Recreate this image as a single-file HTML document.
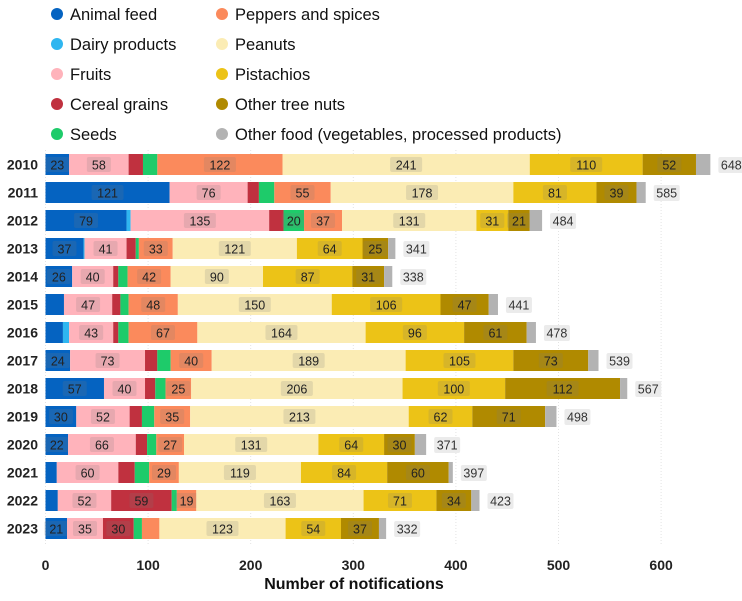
<!DOCTYPE html>
<html><head><meta charset="utf-8"><style>
body{margin:0;background:#fff;width:742px;height:596px;overflow:hidden;font-family:"Liberation Sans",sans-serif}
svg text{font-family:"Liberation Sans",sans-serif}
</style></head><body>
<svg id="chart" width="742" height="596"></svg>
<script>
const years=[2010,2011,2012,2013,2014,2015,2016,2017,2018,2019,2020,2021,2022,2023];
const categories=["Animal feed","Dairy products","Fruits","Cereal grains","Seeds","Peppers and spices","Peanuts","Pistachios","Other tree nuts","Other food (vegetables, processed products)"];
const animalFeed=[23,121,79,37,26,18,17,24,57,30,22,11,12,21];
const dairy=[0,0,4,1,0,0,6,0,0,0,0,0,0,0];
const fruits=[58,76,135,41,40,47,43,73,40,52,66,60,52,35];
const cereal=[14,11,14,9,5,8,5,12,10,12,11,16,59,30];
const seeds=[14,15,20,3,9,8,10,13,10,12,9,14,5,8];
const peppers=[122,55,37,33,42,48,67,40,25,35,27,29,19,17];
const peanuts=[241,178,131,121,90,150,164,189,206,213,131,119,163,123];
const pistachios=[110,81,31,64,87,106,96,105,100,62,64,84,71,54];
const otherNuts=[52,39,21,25,31,47,61,73,112,71,30,60,34,37];
const otherFood=[14,9,12,7,8,9,9,10,7,11,11,4,8,7];
const totals=[648,585,484,341,338,441,478,539,567,498,371,397,423,332];
const xTicks=[0,100,200,300,400,500,600];
const series=[animalFeed,dairy,fruits,cereal,seeds,peppers,peanuts,pistachios,otherNuts,otherFood];
const colors=["#0563c1","#2fb6f0","#ffb3bb","#c0313f","#1ecb6a","#fb8a5c","#fbecb4","#ecc317","#b08a00","#b3b3b3"];
const slugs=["animal-feed","dairy","fruits","cereal-grains","seeds","peppers","peanuts","pistachios","other-tree-nuts","other-food"];
const svg=document.getElementById('chart');
const NS="http://www.w3.org/2000/svg";
const x0=45.5,scale=1.026;
const X=v=>x0+v*scale;
const Y=i=>154+i*28;
const barH=21;
function mk(t,a,txt){const e=document.createElementNS(NS,t);for(const k in a)e.setAttribute(k,a[k]);if(txt!==undefined)e.textContent=txt;svg.appendChild(e);return e;}
// grid
xTicks.forEach(t=>{
  const g=mk('line',{x1:X(t),x2:X(t),y1:150,y2:545,stroke:'#e3e3e3','stroke-dasharray':'1,2'});
  
  
  const l=mk('text',{x:X(t),y:570,'text-anchor':'middle','font-size':14,'font-weight':'bold',fill:'#222'},t);
  
  
});
const at=mk('text',{x:354,y:589,'text-anchor':'middle','font-size':16,'font-weight':'bold',fill:'#111'},'Number of notifications');


// bars
years.forEach((yr,i)=>{
  const yl=mk('text',{x:38,y:Y(i)+15.5,'text-anchor':'end','font-size':14,'font-weight':'bold',fill:'#222'},yr);
  
  
  let acc=0;
  series.forEach((s,k)=>{
    const v=s[i];
    if(v>0){
      const r=mk('rect',{x:X(acc),y:Y(i),width:v*scale,height:barH,fill:colors[k]});
      
      
      if(v>=19){
        const cx=X(acc+v/2),w=String(v).length*8+8;
        const bg=mk('rect',{x:cx-w/2,y:Y(i)+3,width:w,height:15,rx:2,fill:'rgba(120,120,120,0.18)'});
        
        
        const t=mk('text',{x:cx,y:Y(i)+15.5,'text-anchor':'middle','font-size':12.5,fill:'#222'},v);
        
        
      }
    }
    acc+=v;
  });
  const tx=X(totals[i])+8;
  const tb=mk('rect',{x:tx,y:Y(i)+3,width:26,height:16,rx:2,fill:'#ebebeb'});
  
  
  const tt=mk('text',{x:tx+13,y:Y(i)+15.5,'text-anchor':'middle','font-size':12.5,fill:'#333'},totals[i]);
  
  
});
// legend
categories.forEach((c,k)=>{
  const col=k<5?0:1,row=k%5;
  const cx=col?222:57,ty=14+row*30;
  const dot=mk('circle',{cx:cx,cy:ty,r:6,fill:colors[k]});
  
  
  const t=mk('text',{x:cx+13,y:ty+6,'font-size':16.5,fill:'#111'},c);
  
  
});
</script>
</body></html>
